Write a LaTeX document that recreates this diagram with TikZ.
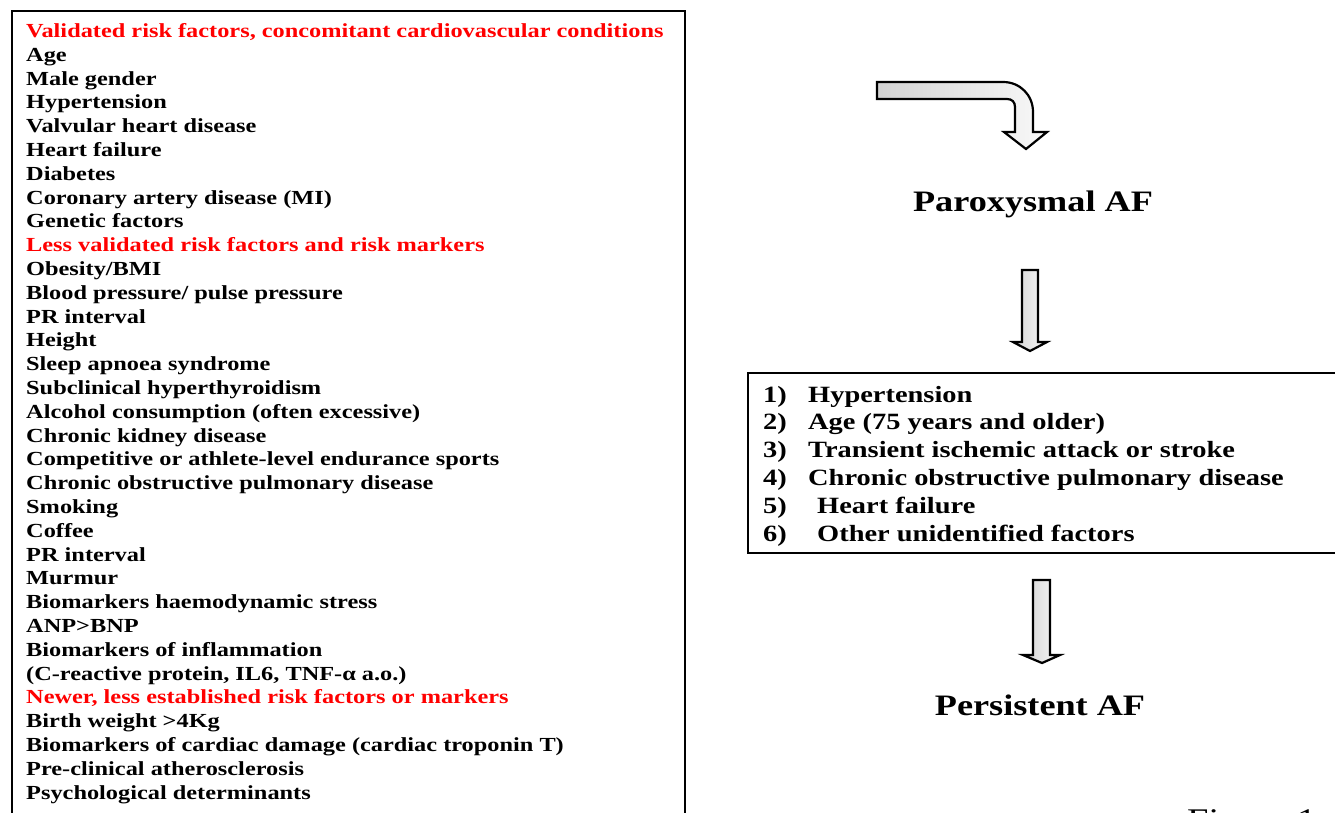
\documentclass[tikz,border=0pt]{standalone}
\usepackage{fontspec}
\setmainfont{Liberation Serif}[FakeStretch=1.22]
\usetikzlibrary{positioning}

\tikzset{
    item/.style={anchor=base west, inner sep=0pt, font=\fontsize{19.95}{23.8}\selectfont\bfseries},
    head/.style={item, text=red},
    step item/.style={anchor=base west, inner sep=0pt, font=\fontsize{23.3}{27.8}\selectfont\bfseries},
    stage/.style={anchor=base, inner sep=0pt, font=\fontsize{29.7}{30}\selectfont\bfseries},
    frame/.style={draw=black, line width=1.4pt},
    blockarrow/.style={draw=black, line width=2.2pt, line join=miter, left color=gray!35, right color=gray!5}
}

\begin{document}
\begin{tikzpicture}[x=1pt, y=-1pt]
    \useasboundingbox (0,0) rectangle (1335,812);

    % left box with the risk factors
    \draw[frame] (12,11) rectangle (685,830);
    \node[head] (h1) at (26,37.4) {Validated risk factors, concomitant cardiovascular conditions};
    \foreach \txt [count=\i] in {Age, Male gender, Hypertension, Valvular heart disease,
        Heart failure, Diabetes, Coronary artery disease (MI), Genetic factors}{
        \node[item] (a\i) at (26, {37.4+23.8*\i}) {\txt};
    }
    \node[head] (h2) at (26,251.6) {Less validated risk factors and risk markers};
    \foreach \txt [count=\i] in {Obesity/BMI, Blood pressure/ pulse pressure, PR interval, Height,
        Sleep apnoea syndrome, Subclinical hyperthyroidism, Alcohol consumption (often excessive),
        Chronic kidney disease, Competitive or athlete-level endurance sports,
        Chronic obstructive pulmonary disease, Smoking, Coffee, PR interval, Murmur,
        Biomarkers haemodynamic stress, ANP>BNP, Biomarkers of inflammation,
        {(C-reactive protein, IL6, TNF-α a.o.)}}{
        \node[item] (b\i) at (26, {251.6+23.8*\i}) {\txt};
    }
    \node[head] (h3) at (26,703.8) {Newer, less established risk factors or markers};
    \foreach \txt [count=\i] in {Birth weight >4Kg, Biomarkers of cardiac damage (cardiac troponin T),
        Pre-clinical atherosclerosis, Psychological determinants}{
        \node[item] (c\i) at (26, {703.8+23.8*\i}) {\txt};
    }

    % bent arrow into paroxysmal AF
    \draw[blockarrow] (877,82) -- (1003,82) .. controls (1020,82) and (1033,95) .. (1033,112)
        -- (1033,132) -- (1047,132) -- (1026,149) -- (1004,132) -- (1015,132) -- (1015,107)
        .. controls (1015,102) and (1012,99) .. (1007,99) -- (877,99) -- cycle;

    \node[stage] (parox) at (1033,211) {Paroxysmal AF};

    \draw[blockarrow] (1022,270) -- (1038,270) -- (1038,342) -- (1047,342) -- (1030,351)
        -- (1013,342) -- (1022,342) -- cycle;

    % box with the progression factors
    \draw[frame] (748,373) rectangle (1345,553);
    \foreach \txt/\dx [count=\i] in {Hypertension/0, Age (75 years and older)/0,
        Transient ischemic attack or stroke/0, Chronic obstructive pulmonary disease/0,
        Heart failure/9, Other unidentified factors/9}{
        \node[step item] (n\i) at (763, {402+27.8*(\i-1)}) {\i)};
        \node[step item] (r\i) at ({808+\dx}, {402+27.8*(\i-1)}) {\txt};
    }

    \draw[blockarrow] (1033,580) -- (1050,580) -- (1050,655) -- (1060,655) -- (1042,663)
        -- (1023,655) -- (1033,655) -- cycle;

    \node[stage] (persist) at (1040,715) {Persistent AF};

    \node[anchor=base west, inner sep=0pt, font=\fontsize{31.5}{32}\selectfont] (fig) at (1187,830) {Figure 1};
\end{tikzpicture}
\end{document}
